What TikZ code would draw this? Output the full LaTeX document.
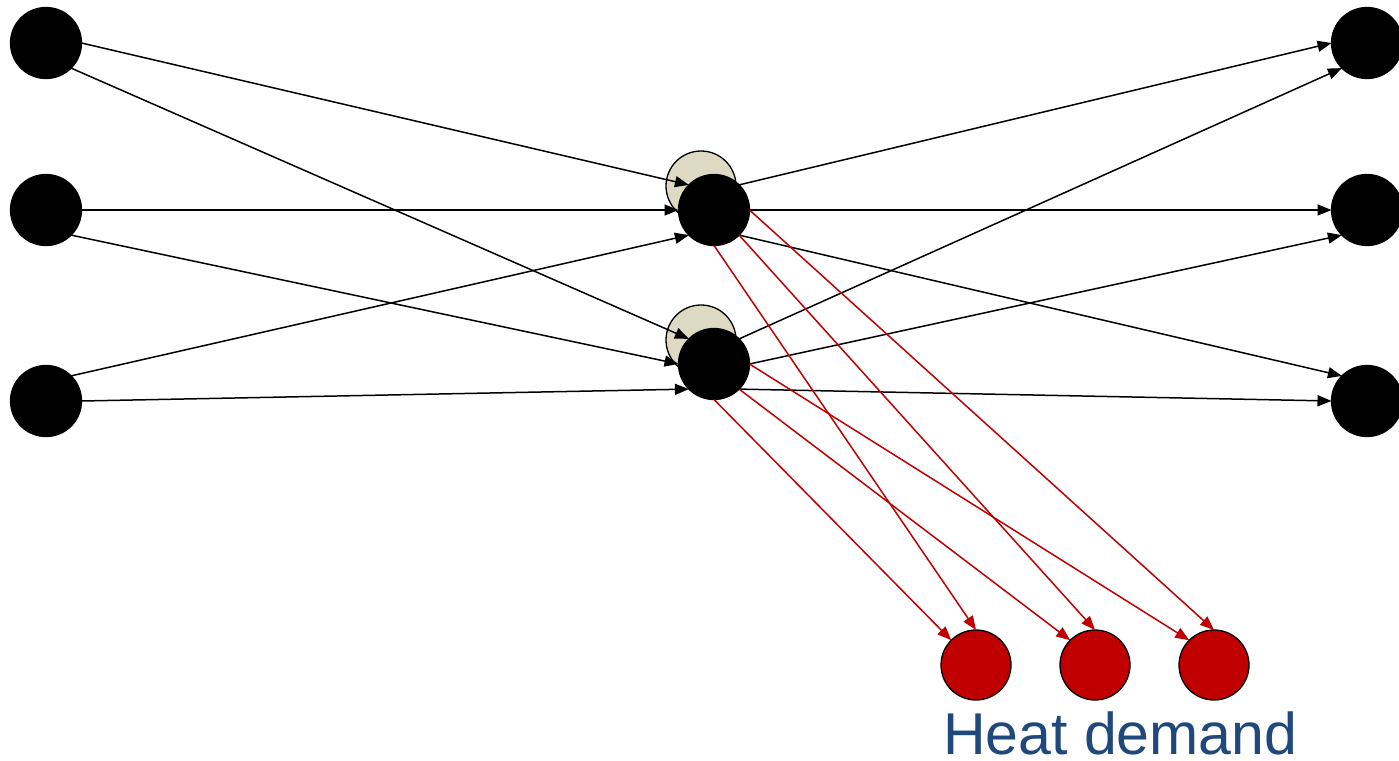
\documentclass[tikz,border=0pt]{standalone}
\usepackage{fontspec}
\setmainfont{Liberation Sans}
\usetikzlibrary{arrows.meta}
\definecolor{beige}{RGB}{221,217,195}
\definecolor{dred}{RGB}{192,0,0}
\definecolor{tblue}{RGB}{31,73,125}
\begin{document}
\begin{tikzpicture}[x=1pt,y=-1pt,
  blk/.style={circle,fill=black,draw=black,line width=1.3pt,minimum size=71pt,inner sep=0pt,outer sep=0pt},
  bge/.style={circle,fill=beige,draw=black,line width=1.3pt,minimum size=70pt,inner sep=0pt,outer sep=0pt},
  dem/.style={circle,fill=dred,draw=black,line width=1.3pt,minimum size=70pt,inner sep=0pt,outer sep=0pt},
  edge/.style={line width=1.5pt,-{Triangle[length=14pt,width=11pt]}},
  redge/.style={edge,draw=dred,-{Triangle[length=14pt,width=11pt,fill=dred]}}]
\useasboundingbox (0,0) rectangle (1399,760);
% beige nodes behind
\node[bge] (B1) at (701,186) {};
\node[bge] (B2) at (701,340) {};
% black nodes
\node[blk] (L1) at (46,43) {};
\node[blk] (L2) at (46,210) {};
\node[blk] (L3) at (46,401) {};
\node[blk] (M1) at (714,210) {};
\node[blk] (M2) at (714,364) {};
\node[blk] (R1) at (1367,43) {};
\node[blk] (R2) at (1367,210) {};
\node[blk] (R3) at (1367,401) {};
% demand nodes
\node[dem] (D1) at (976,665) {};
\node[dem] (D2) at (1095,665) {};
\node[dem] (D3) at (1214,665) {};
\node[anchor=base west,inner sep=0pt,text=tblue,font=\fontsize{59pt}{62pt}\selectfont] (T) at (943,754) {Heat demand};
% left to middle
\draw[edge] (L1.east) -- (M1.north west);
\draw[edge] (L1.south east) -- (M2.north west);
\draw[edge] (L2.east) -- (M1.west);
\draw[edge] (L2.south east) -- (M2.west);
\draw[edge] (L3.north east) -- (M1.south west);
\draw[edge] (L3.east) -- (M2.south west);
% middle to right
\draw[edge] (M1.north east) -- (R1.west);
\draw[edge] (M2.north east) -- (R1.south west);
\draw[edge] (M1.east) -- (R2.west);
\draw[edge] (M2.east) -- (R2.south west);
\draw[edge] (M1.south east) -- (R3.north west);
\draw[edge] (M2.south east) -- (R3.west);
% middle to demand
\draw[redge] (M1.south) -- (D1.north);
\draw[redge] (M1.south east) -- (D2.north);
\draw[redge] (M1.east) -- (D3.north);
\draw[redge] (M2.south) -- (D1.north west);
\draw[redge] (M2.south east) -- (D2.north west);
\draw[redge] (M2.east) -- (D3.north west);
\end{tikzpicture}
\end{document}
